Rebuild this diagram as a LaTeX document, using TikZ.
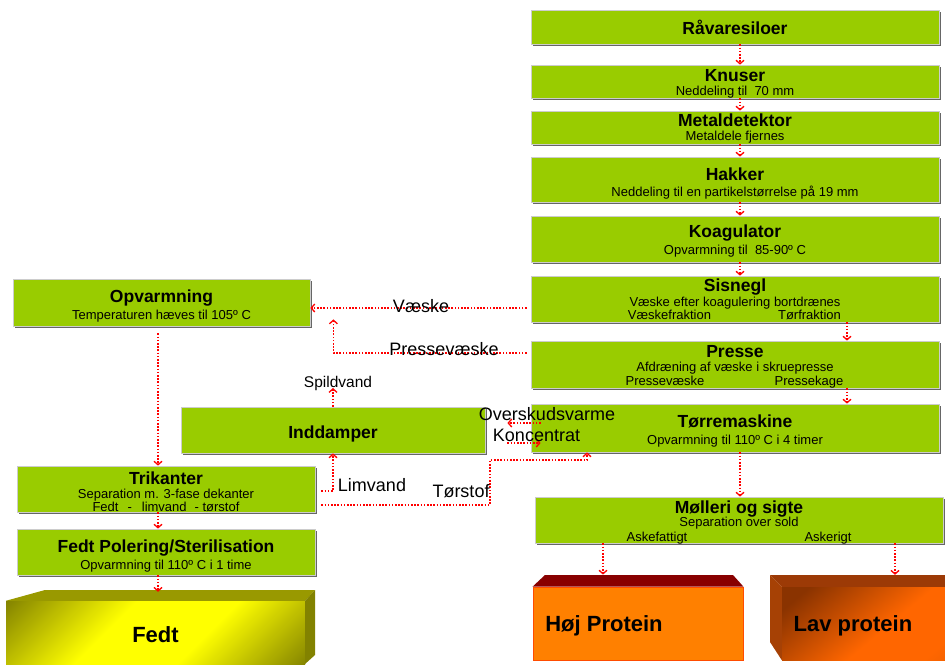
\documentclass[tikz,border=0pt]{standalone}
\usepackage{fontspec}
\setmainfont{Liberation Sans}
\usetikzlibrary{arrows.meta,shadows}
\definecolor{boxgreen}{HTML}{99CC00}
\definecolor{flowred}{HTML}{FF0000}
\definecolor{fedtolive}{HTML}{999900}
\definecolor{fedtdark}{HTML}{777700}
\definecolor{hojfront}{HTML}{FF8000}
\definecolor{hojtop}{HTML}{880000}
\definecolor{lavtop}{HTML}{9C3A06}
\definecolor{lavdark}{HTML}{8A3300}
\definecolor{lavlight}{HTML}{FF6600}
\pgfdeclarehorizontalshading{fedtshade}{100bp}{color(0bp)=(fedtdark); color(12bp)=(fedtdark); color(40bp)=(yellow); color(60bp)=(yellow); color(88bp)=(fedtdark); color(100bp)=(fedtdark)}
\pgfdeclarehorizontalshading{lavshade}{100bp}{color(0bp)=(lavdark); color(22bp)=(lavdark); color(55bp)=(lavlight); color(75bp)=(lavlight); color(100bp)=(lavlight!85!black)}
\tikzset{stage/.style = {draw=gray!40, line width=0.8pt, fill=boxgreen, rectangle, inner sep=0pt, minimum width=408pt,
                         drop shadow={shadow xshift=1.8pt, shadow yshift=-1.8pt, fill=black!60, opacity=1}},
         boxtitle/.style = {font=\bfseries\fontsize{17.5}{20}\selectfont, anchor=base, inner sep=0pt},
         boxnote/.style = {font=\fontsize{13}{15}\selectfont, anchor=base, inner sep=0pt},
         flowlabel/.style = {font=\fontsize{18}{20}\selectfont, anchor=base, inner sep=0pt},
         prodlabel/.style = {font=\bfseries\fontsize{22}{24}\selectfont, anchor=base, inner sep=0pt},
         flow/.style = {draw=flowred, line width=1.6pt, dash pattern=on 1.6pt off 1.6pt,
                        -{Straight Barb[length=3.5pt,width=8pt,line width=1.3pt]}}}
\begin{document}
\begin{tikzpicture}[x=1pt,y=-1pt]
        \clip (0,0) rectangle (945,664);

        % right column
        \node[stage, minimum height=34pt] (raa) at (735,27) {};
        \node[stage, minimum height=33pt] (knu) at (735,81.5) {};
        \node[stage, minimum height=33pt] (met) at (735,127.5) {};
        \node[stage, minimum height=45pt] (hak) at (735,179.5) {};
        \node[stage, minimum height=46pt] (koa) at (735,239) {};
        \node[stage, minimum height=46pt] (sis) at (735,299) {};
        \node[stage, minimum height=47pt] (pre) at (735,364.5) {};
        \node[stage, minimum height=48pt] (tor) at (735,428) {};
        \node[stage, minimum height=46pt] (mol) at (739,520) {};

        % left column
        \node[stage, minimum width=297pt, minimum height=47pt] (opv) at (161.5,302.5) {};
        \node[stage, minimum width=304pt, minimum height=46pt] (ind) at (333,430) {};
        \node[stage, minimum width=298pt, minimum height=46pt] (tri) at (166,489) {};
        \node[stage, minimum width=298pt, minimum height=46pt] (fpol) at (166,552) {};

        % products
        \node[shade, shading=fedtshade, shading angle=-45, minimum width=299pt, minimum height=66pt, inner sep=0pt] (fedt) at (155.5,634) {};
        \fill[fedtolive] (fedt.north west) -- (45,590) -- (315,590) -- (fedt.north east) -- cycle;
        \fill[fedtolive!85!black] (fedt.north east) -- (315,590) -- (315,655) -- (305,664) -- cycle;

        \node[fill=hojfront, draw=orange!60!red, line width=0.8pt, minimum width=210pt, minimum height=73pt, inner sep=0pt] (hoj) at (638,623.5) {};
        \fill[hojtop] (hoj.north west) -- (545,575) -- (733,575) -- (hoj.north east) -- cycle;

        \node[shade, shading=lavshade, shading angle=-50, minimum width=180pt, minimum height=73pt, inner sep=0pt] (lav) at (872,623.5) {};
        \fill[lavtop] (lav.north west) -- (770,575) -- (962,575) -- (lav.north east) -- cycle;
        \fill[lavtop!90!orange] (770,575) -- (lav.north west) -- (lav.south west) -- (770,642) -- cycle;

        % main line
        \draw[flow] ([xshift=5pt]raa.south) -- ([xshift=5pt]knu.north);
        \draw[flow] ([xshift=5pt]knu.south) -- ([xshift=5pt]met.north);
        \draw[flow] ([xshift=5pt]met.south) -- ([xshift=5pt]hak.north);
        \draw[flow] ([xshift=5pt]hak.south) -- ([xshift=5pt]koa.north);
        \draw[flow] ([xshift=5pt]koa.south) -- ([xshift=5pt]sis.north);
        \draw[flow] ([xshift=112pt]sis.south) -- ([xshift=112pt]pre.north);
        \draw[flow] ([xshift=112pt]pre.south) -- ([xshift=112pt]tor.north);
        \draw[flow] ([xshift=5pt]tor.south) -- ([xshift=1pt]mol.north);
        \draw[flow] ([xshift=-136pt]mol.south) -- ([xshift=-35pt,yshift=12pt]hoj.north);
        \draw[flow] ([xshift=156pt]mol.south) -- ([xshift=23pt,yshift=12pt]lav.north);

        % liquid side
        \draw[flow] ([xshift=-4pt,yshift=-9pt]sis.west) -- ([yshift=-5.5pt]opv.east);
        \draw[flow] ([xshift=-4pt,yshift=11.5pt]pre.west) -| ([xshift=23pt,yshift=7pt]opv.south east);
        \draw[flow] ([xshift=-3.5pt,yshift=-7pt]opv.south) -- ([xshift=-8pt]tri.north);
        \draw[flow] ([xshift=-8pt]tri.south) -- ([xshift=-8pt]fpol.north);
        \draw[flow] ([xshift=-8pt]fpol.south) -- ([xshift=2.5pt,yshift=9pt]fedt.north);
        \coordinate (spild) at (333,388);
        \draw[flow] (ind.north) -- (spild);
        \draw[flow] ([xshift=10pt,yshift=5pt]tor.west) -- ([xshift=22pt,yshift=7pt]ind.east);
        \draw[flow] ([xshift=22pt,yshift=-13pt]ind.east) -- ([xshift=10pt,yshift=-15pt]tor.west);
        \draw[flow] ([xshift=6pt,yshift=-2pt]tri.east) -| (ind.south);
        \coordinate (torstof-knee) at (490,460);
        \draw[flow] ([xshift=6pt,yshift=-16pt]tri.east) -| (torstof-knee) -| ([xshift=-148pt]tor.south);

        % box texts
        \node[boxtitle] (raa-t) at (735,34.3) {Råvaresiloer};
        \node[boxtitle] (knu-t) at (735,81.7) {Knuser};
        \node[boxnote] (knu-n) at (735,95) {Neddeling til\ \ 70 mm};
        \node[boxtitle] (met-t) at (735,126) {Metaldetektor};
        \node[boxnote] (met-n) at (735,140.7) {Metaldele fjernes};
        \node[boxtitle] (hak-t) at (735,180) {Hakker};
        \node[boxnote] (hak-n) at (735,196) {Neddeling til en partikelstørrelse på 19 mm};
        \node[boxtitle] (koa-t) at (735,237.7) {Koagulator};
        \node[boxnote] (koa-n) at (735,254.3) {Opvarmning til\ \ 85-90º C};
        \node[boxtitle] (sis-t) at (735,291.7) {Sisnegl};
        \node[boxnote] (sis-n) at (735,306.7) {Væske efter koagulering bortdrænes};
        \node[boxnote] (sis-l) at (669.5,319.3) {Væskefraktion};
        \node[boxnote] (sis-r) at (809.5,319.3) {Tørfraktion};
        \node[boxtitle] (pre-t) at (735,357.3) {Presse};
        \node[boxnote] (pre-n) at (735,371.7) {Afdræning af væske i skruepresse};
        \node[boxnote] (pre-l) at (665,385.3) {Pressevæske};
        \node[boxnote] (pre-r) at (809,385.3) {Pressekage};
        \node[boxtitle] (tor-t) at (735,427.3) {Tørremaskine};
        \node[boxnote] (tor-n) at (735,444.3) {Opvarmning til 110º C i 4 timer};
        \node[boxtitle] (mol-t) at (739,513.3) {Mølleri og sigte};
        \node[boxnote] (mol-n) at (739,526.7) {Separation over sold};
        \node[boxnote] (mol-l) at (657,541) {Askefattigt};
        \node[boxnote] (mol-r) at (828,541) {Askerigt};

        \node[boxtitle] (opv-t) at (161.5,302.7) {Opvarmning};
        \node[boxnote] (opv-n) at (161.5,319.3) {Temperaturen hæves til 105º C};
        \node[boxtitle] (ind-t) at (333,438.5) {Inddamper};
        \node[boxtitle] (tri-t) at (166,484) {Trikanter};
        \node[boxnote] (tri-n) at (166,498.3) {Separation m. 3-fase dekanter};
        \node[boxnote] (tri-f) at (166,511.7) {Fedt\hspace{9pt}-\hspace{10pt}limvand\hspace{8pt}- tørstof};
        \node[boxtitle] (fpol-t) at (166,552.7) {Fedt Polering/Sterilisation};
        \node[boxnote] (fpol-n) at (166,569.3) {Opvarmning til 110º C i 1 time};

        % flow labels
        \node[flowlabel] (vaeske) at (421,312.7) {Væske};
        \node[flowlabel] (pressevaeske) at (444,355) {Pressevæske};
        \node[flowlabel, font=\fontsize{15.5}{17}\selectfont] (spildvand) at (338,387.3) {Spildvand};
        \node[flowlabel] (overskud) at (547,420.7) {Overskudsvarme};
        \node[flowlabel] (koncentrat) at (536.5,441.7) {Koncentrat};
        \node[flowlabel] (limvand) at (372,491.7) {Limvand};
        \node[flowlabel] (torstof) at (461,497.3) {Tørstof};

        % products
        \node[prodlabel] (fedt-t) at (155.5,642.7) {Fedt};
        \node[prodlabel] (hoj-t) at (604,631.7) {Høj Protein};
        \node[prodlabel] (lav-t) at (853,631.7) {Lav protein};
\end{tikzpicture}
\end{document}
